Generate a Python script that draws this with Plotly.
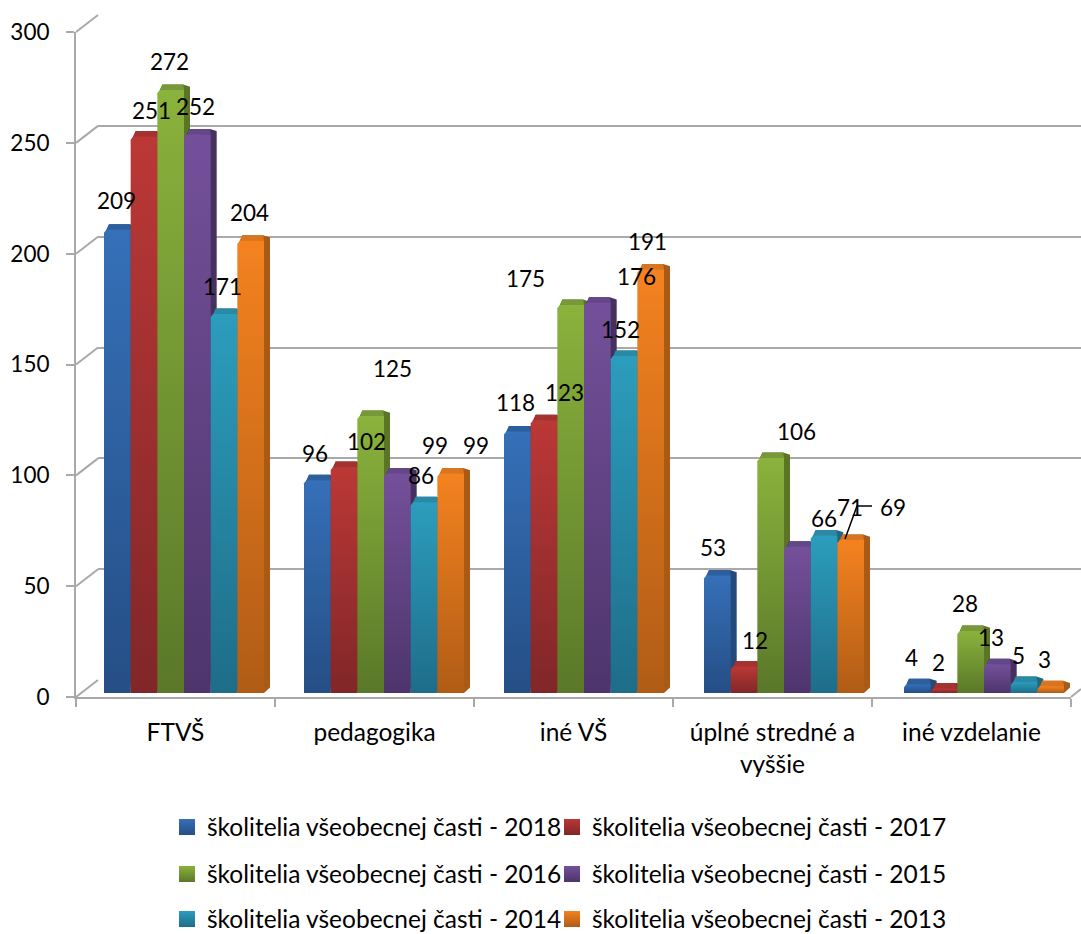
import plotly.graph_objects as go

W, H = 1081, 934
FONT = "Lato, sans-serif"
GRID = "#a9a9a9"
SIZE_NUM = 22.5
SIZE_TXT = 24.5

CATEGORIES = ["FTVŠ", "pedagogika", "iné VŠ", "úplné stredné a<br>vyššie", "iné vzdelanie"]
YEARS = [2018, 2017, 2016, 2015, 2014, 2013]

V_2018 = [209, 96, 118, 53, 4]
V_2017 = [251, 102, 123, 12, 2]
V_2016 = [272, 125, 175, 106, 28]
V_2015 = [252, 99, 176, 66, 13]
V_2014 = [171, 86, 152, 71, 5]
V_2013 = [204, 99, 191, 69, 3]
SERIES = [V_2018, V_2017, V_2016, V_2015, V_2014, V_2013]

# (top of front face, bottom of front face, side/top dark)
COLORS = [
    ("#3570b8", "#254e85", "#234a78"),
    ("#bb3836", "#812628", "#7d2523"),
    ("#8ab23c", "#5a7829", "#5b7527"),
    ("#74509a", "#4d356c", "#46305f"),
    ("#2c9dbd", "#1e6d89", "#1d6a80"),
    ("#f4821f", "#b05c16", "#a85a16"),
]
TOPS = ["#2d5f9e", "#a33230", "#78993a", "#644788", "#2a8aa6", "#d9741f"]

# data label centres in pixels, hand placed in the original chart
LABEL_X = [
    [116, 315, 515, 713, 911],
    [151, 366, 564, 755, 938],
    [169, 392, 525, 796, 965],
    [195, 435, 636, 824, 991],
    [222, 421, 620, 850, 1018],
    [249, 476, 647, 893, 1044],
]
LABEL_Y = [
    [201, 453, 402, 547, 657],
    [110, 441, 393, 640, 662],
    [62, 368, 278, 431, 603],
    [107, 445, 276, 518, 637],
    [286, 475, 329, 507, 655],
    [213, 445, 242, 507, 659],
]

# legend entries: two columns, three rows
LEGEND_COL_X = [167, 552]
LEGEND_ROW_Y = [827, 874, 919]


def dom_x(a, b):
    return [a / W, b / W]


def dom_y(top, bottom):
    return [(H - bottom) / H, (H - top) / H]


fig = go.Figure()

# front axes carry the ticks, back wall carries the grid, bars sit in between
fig.add_trace(go.Scatter(x=CATEGORIES, y=[0] * 5, xaxis="x", yaxis="y", mode="markers",
                         marker=dict(opacity=0), hoverinfo="skip", showlegend=False))
fig.add_trace(go.Scatter(x=[0], y=[0], xaxis="x2", yaxis="y2", mode="markers",
                         marker=dict(opacity=0), hoverinfo="skip", showlegend=False))

GROUP = 0.8
BAR_W = GROUP / 6
DX = 6 / 200
DY = 5.5 / 2.217
CH_X = 0.012
CH_Y = 1.4

for s, values in enumerate(SERIES):
    c_top, c_bot, c_side = COLORS[s]
    for c, v in enumerate(values):
        x0 = c - GROUP / 2 + s * BAR_W
        x1 = x0 + BAR_W
        # top and side faces first, so the next bar covers them
        fig.add_trace(go.Scatter(
            x=[x1, x1 + DX, x1 + DX, x1 - 0.004, x0 + 0.025, x0 + CH_X, x1],
            y=[0, DY, v + DY - 1, v + DY, v + DY, v, 0],
            xaxis="x3", yaxis="y3", mode="lines", fill="toself",
            fillcolor=c_side, line=dict(width=0), hoverinfo="skip", showlegend=False,
        ))
        fig.add_trace(go.Scatter(
            x=[x0 + CH_X, x0 + 0.025, x1 - 0.004, x1],
            y=[v - 0.5, v + DY, v + DY, v],
            xaxis="x3", yaxis="y3", mode="lines", fill="toself",
            fillcolor=TOPS[s], line=dict(width=0), hoverinfo="skip", showlegend=False,
        ))
        fig.add_trace(go.Scatter(
            x=[x0, x0, x0 + CH_X, x1, x1, x0],
            y=[0, v - CH_Y, v, v, 0, 0],
            xaxis="x3", yaxis="y3", mode="lines", fill="toself",
            fillgradient=dict(type="vertical", colorscale=[[0, c_bot], [1, c_top]]),
            line=dict(width=0), name=f"{YEARS[s]}", hoverinfo="x+y", showlegend=False,
        ))

# one single-entry legend per slot, a wrapped legend cannot hold this row spacing
legends = {}
for s, year in enumerate(YEARS):
    key = "legend" if s == 0 else f"legend{s + 1}"
    fig.add_trace(go.Scatter(
        x=[None], y=[None], xaxis="x3", yaxis="y3", mode="markers",
        name=f"školitelia všeobecnej časti - {year}",
        legend=key,
        marker=dict(symbol="square", size=16, color=COLORS[s][0],
                    gradient=dict(type="vertical", color=COLORS[s][1])),
    ))
    legends[key] = dict(orientation="h", xanchor="left", yanchor="middle",
                        x=LEGEND_COL_X[s % 2] / W, y=(H - LEGEND_ROW_Y[s // 2]) / H,
                        itemwidth=30, bgcolor="rgba(0,0,0,0)",
                        font=dict(family=FONT, size=SIZE_TXT, color="#000000"))

# value labels
for s, values in enumerate(SERIES):
    for c, v in enumerate(values):
        fig.add_annotation(text=str(v), xref="paper", yref="paper",
                           x=LABEL_X[s][c] / W, y=(H - LABEL_Y[s][c]) / H,
                           showarrow=False, xanchor="center", yanchor="middle",
                           font=dict(family=FONT, size=SIZE_NUM, color="#000000"))

# leader line of the 2013 label
fig.add_shape(type="path", xref="paper", yref="paper",
              path=f"M {845/W} {(H-539)/H} L {857/W} {(H-506)/H} L {872/W} {(H-506)/H}",
              line=dict(color="#000000", width=1.5))

# perspective struts from the front axes to the back wall
for k in range(7):
    yf = 697 - k * 110.83
    fig.add_shape(type="line", xref="paper", yref="paper", layer="below",
                  x0=76 / W, x1=98 / W, y0=(H - yf) / H, y1=(H - yf + 17) / H,
                  line=dict(color=GRID, width=2))
fig.add_shape(type="line", xref="paper", yref="paper", layer="below",
              x0=1071 / W, x1=1081 / W, y0=(H - 697) / H, y1=(H - 689) / H,
              line=dict(color=GRID, width=2))

axis_off = dict(showgrid=False, zeroline=False, showline=False, showticklabels=False, ticks="")

fig.update_layout(
    width=W, height=H,
    margin=dict(l=0, r=0, t=0, b=0, autoexpand=False),
    paper_bgcolor="white", plot_bgcolor="rgba(0,0,0,0)",
    xaxis=dict(domain=dom_x(76, 1071), anchor="y", type="category",
               categoryorder="array", categoryarray=CATEGORIES, range=[-0.5, 4.5],
               tickson="boundaries", ticks="outside", ticklen=8, tickwidth=2, tickcolor=GRID,
               showline=True, linecolor=GRID, linewidth=2, showgrid=False, zeroline=False,
               ticklabelstandoff=13,
               tickfont=dict(family=FONT, size=SIZE_TXT, color="#000000")),
    yaxis=dict(domain=dom_y(32, 697), anchor="x", range=[0, 300], dtick=50,
               ticks="outside", ticklen=8, tickwidth=2, tickcolor=GRID,
               showline=True, linecolor=GRID, linewidth=2, showgrid=False, zeroline=False,
               ticklabelstandoff=12,
               tickfont=dict(family=FONT, size=SIZE_NUM, color="#000000")),
    xaxis2=dict(domain=dom_x(98, 1081), anchor="y2", range=[0, 1], **axis_off),
    yaxis2=dict(domain=dom_y(15, 680), anchor="x2", range=[0, 300], dtick=50,
                showgrid=True, gridcolor=GRID, gridwidth=2, zeroline=False,
                showline=False, showticklabels=False, ticks=""),
    xaxis3=dict(domain=dom_x(84, 1079), anchor="y3", range=[-0.5, 4.475], **axis_off),
    yaxis3=dict(domain=dom_y(28, 693), anchor="x3", range=[0, 300], **axis_off),
    **legends,
)

# the page's default body margin would push the fixed-size figure off by 8px
fig.write_html("out.html", config=dict(displayModeBar=False),
               post_script="document.body.style.margin = '0';")
